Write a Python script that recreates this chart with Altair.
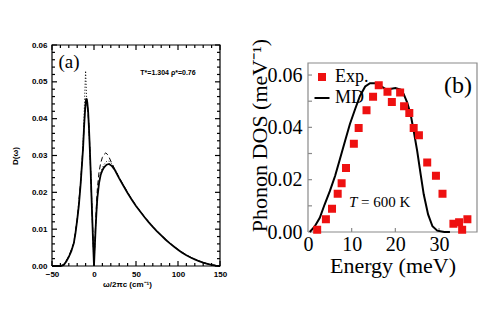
import altair as alt
import pandas as pd

# ---------------- panel (a) data ----------------
a_solid_x = [-50, -40, -36, -33, -30, -27, -24, -22, -20, -18, -16, -14.5, -13, -12, -11, -10, -9, -8, -7, -6, -5, -4, -3, -2, -1,
             0, 1, 2, 3, 4, 6, 8, 10, 12, 15, 18, 21, 25, 30, 35, 40, 45, 50, 55, 60, 65, 70, 75, 80, 85, 90, 95,
             100, 105, 110, 115, 120, 125, 130, 135, 140, 145, 150]
a_solid_y = [0, 0, 0.0003, 0.0012, 0.0025, 0.004, 0.0062, 0.009, 0.0125, 0.0165, 0.022, 0.027, 0.032, 0.037, 0.041, 0.044, 0.0455,
             0.0445, 0.042, 0.0375, 0.032, 0.026, 0.019, 0.0125, 0.006,
             0, 0.0055, 0.0105, 0.015, 0.0185, 0.0225, 0.0248, 0.026, 0.0268, 0.0275, 0.0277, 0.0272, 0.026, 0.0238, 0.0218,
             0.0198, 0.018, 0.0163, 0.0148, 0.0133, 0.0119, 0.0106, 0.0094, 0.0083, 0.0072, 0.0062, 0.0053,
             0.0044, 0.0036, 0.0029, 0.0023, 0.0018, 0.0013, 0.0009, 0.0006, 0.0003, 0.0001, 0]

a_dash_x = [-50, -40, -36, -30, -24, -20, -16, -13, -11, -10, -9, -8, -6, -4, -2, 0, 1, 2, 3, 4, 6, 8, 10, 12, 14, 16, 18,
            21, 25, 30, 35, 40, 50, 60, 70, 80, 90, 100, 110, 120, 130, 140, 150]
a_dash_y = [0, 0, 0.0004, 0.0026, 0.0064, 0.0128, 0.0225, 0.0325, 0.0415, 0.0448, 0.0458, 0.0445, 0.038, 0.0262, 0.0128, 0,
            0.006, 0.012, 0.017, 0.021, 0.0255, 0.028, 0.0295, 0.0303, 0.0307, 0.0303, 0.0295, 0.028, 0.0262, 0.024, 0.022,
            0.0199, 0.0164, 0.0134, 0.0107, 0.0084, 0.0063, 0.0045, 0.003, 0.0018, 0.0009, 0.0003, 0]

a_dot_x = [-50, -40, -36, -30, -24, -20, -16, -14, -12.5, -11.5, -10.5, -10, -9.5, -8.5, -7, -6, -4, -2, 0, 2, 4, 6, 8, 10,
           12, 15, 18, 21, 25, 30, 40, 50, 60, 70, 80, 90, 100, 110, 120, 130, 140, 150]
a_dot_y = [0, 0, 0.0003, 0.0025, 0.0062, 0.0125, 0.022, 0.029, 0.036, 0.043, 0.05, 0.053, 0.05, 0.044, 0.042, 0.0375, 0.026,
           0.0125, 0, 0.0108, 0.0188, 0.023, 0.0253, 0.0266, 0.0276, 0.0284, 0.0285, 0.0278, 0.0263, 0.024, 0.0199, 0.0163,
           0.0133, 0.0106, 0.0083, 0.0062, 0.0044, 0.0029, 0.0018, 0.0009, 0.0003, 0]

a_xmajor = [-50, 0, 50, 100, 150]
a_xminor = [-40, -30, -20, -10, 10, 20, 30, 40, 60, 70, 80, 90, 110, 120, 130, 140]
a_ymajor = [0, 0.01, 0.02, 0.03, 0.04, 0.05, 0.06]
a_yminor = [0.002, 0.004, 0.006, 0.008, 0.012, 0.014, 0.016, 0.018, 0.022, 0.024, 0.026, 0.028,
            0.032, 0.034, 0.036, 0.038, 0.042, 0.044, 0.046, 0.048, 0.052, 0.054, 0.056, 0.058]

# ---------------- panel (b) data ----------------
b_exp_x = [2.1, 4.1, 5.5, 6.8, 7.7, 8.7, 10.5, 11.6, 13.4, 14.9, 16.2, 18.2, 19.2, 21.1, 22.0, 23.2, 24.2, 25.4, 27.3,
           29.3, 30.8, 33.3, 34.6, 35.3, 36.5]
b_exp_y = [0.0009, 0.0049, 0.0089, 0.0146, 0.0186, 0.0245, 0.0337, 0.0398, 0.0465, 0.0517, 0.0561, 0.0536, 0.0497, 0.0533,
           0.0481, 0.0455, 0.0398, 0.0370, 0.0266, 0.0215, 0.0146, 0.0032, 0.0037, 0.0009, 0.0049]
b_md_x = [0.4, 1.5, 2.7, 3.8, 5.0, 6.2, 7.3, 8.5, 9.6, 10.8, 11.9, 13.1, 14.2, 15.4, 16.5, 17.7, 18.8, 20.0, 21.2, 21.9,
          22.7, 23.5, 24.2, 25.0, 25.8, 26.5, 27.5, 28.5, 29.6, 31.2, 32.5]
b_md_y = [0, 0.002, 0.0054, 0.0105, 0.0156, 0.0214, 0.0278, 0.0349, 0.0413, 0.047, 0.052, 0.0556, 0.0569, 0.0569, 0.056,
          0.0547, 0.0547, 0.055, 0.0544, 0.0528, 0.0496, 0.045, 0.0387, 0.031, 0.022, 0.0144, 0.0067, 0.0022, 0.0005, 0,
          0]
b_xticks = [0, 10, 20, 30]
b_yticks = [0, 0.02, 0.04, 0.06]
b_xtickmarks = [10, 20, 30]
b_ytickmarks = [0.01, 0.02, 0.03, 0.04, 0.05, 0.06]
b_series = ["Exp.", "MD"]

SANS = "Liberation Sans"
SERIF = "Liberation Serif"

AW, AH = 168, 221
BW, BH = 169, 169


# ---------------- helpers ----------------
def side_ticks(values, scale, side, length, color, W, H):
    """Inward tick marks drawn as 'stroke' symbols positioned through the scale."""
    df = pd.DataFrame({"v": values})
    if side in ("left", "right"):
        xc = length / 2 if side == "left" else W - length / 2
        return alt.Chart(df).mark_point(shape="stroke", size=length * length, strokeWidth=1.2, color=color,
                                        filled=False, opacity=1).encode(
            y=alt.Y("v:Q", scale=scale, axis=None), x=alt.value(xc))
    yc = length / 2 if side == "top" else H - length / 2
    return alt.Chart(df).mark_point(shape="stroke", size=length * length, strokeWidth=1.2, color=color, angle=90,
                                    filled=False, opacity=1).encode(
        x=alt.X("v:Q", scale=scale, axis=None), y=alt.value(yc))


def frame(xs, ys, xdom, ydom, color):
    """Closed border of the plot area as one ordered polyline at the scale domain limits."""
    df = pd.DataFrame({
        "x": [xdom[0], xdom[1], xdom[1], xdom[0], xdom[0]],
        "y": [ydom[0], ydom[0], ydom[1], ydom[1], ydom[0]],
        "k": [0, 1, 2, 3, 4],
    })
    return alt.Chart(df).mark_line(color=color, strokeWidth=1.2, opacity=1).encode(
        x=alt.X("x:Q", scale=xs, axis=None),
        y=alt.Y("y:Q", scale=ys, axis=None),
        order=alt.Order("k:Q"),
    )


# ---------------- panel (a) ----------------
xa_dom, ya_dom = [-50, 150], [0, 0.06]
xa = alt.Scale(domain=xa_dom, nice=False, zero=False)
ya = alt.Scale(domain=ya_dom, nice=False)

a_xaxis = alt.Axis(orient="bottom", values=a_xmajor, format="d", ticks=False,
                   domain=False, grid=False, labelFlush=False, labelFont=SANS, labelFontWeight="bold", labelFontSize=8,
                   labelColor="black", labelPadding=4, title="ω/2πc (cm⁻¹)", titleFont=SANS,
                   titleFontWeight="bold", titleFontSize=8, titleColor="black", titlePadding=2, titleX=75)
a_yaxis = alt.Axis(orient="left", values=a_ymajor, format=".2f", ticks=False,
                   domain=False, grid=False, labelFlush=False, labelFont=SANS, labelFontWeight="bold", labelFontSize=8,
                   labelColor="black", labelPadding=5, title="D(ω)", titleFont=SANS, titleFontWeight="bold",
                   titleFontSize=8, titleColor="black", titlePadding=12)

df_solid = pd.DataFrame({"x": a_solid_x, "y": a_solid_y})
df_dash = pd.DataFrame({"x": a_dash_x, "y": a_dash_y})
df_dot = pd.DataFrame({"x": a_dot_x, "y": a_dot_y})

a_dot = alt.Chart(df_dot).mark_line(color="black", strokeWidth=1, strokeDash=[1, 2]).encode(
    x=alt.X("x:Q", scale=xa, axis=a_xaxis),
    y=alt.Y("y:Q", scale=ya, axis=a_yaxis),
)
a_dash = alt.Chart(df_dash).mark_line(color="black", strokeWidth=1, strokeDash=[5, 3]).encode(
    x=alt.X("x:Q", scale=xa, axis=None),
    y=alt.Y("y:Q", scale=ya, axis=None),
)
a_solid = alt.Chart(df_solid).mark_line(color="black", strokeWidth=1.8).encode(
    x=alt.X("x:Q", scale=xa, axis=None),
    y=alt.Y("y:Q", scale=ya, axis=None),
)
a_guides = [frame(xa, ya, xa_dom, ya_dom, "black")]
for side in ("left", "right"):
    a_guides.append(side_ticks(a_ymajor, ya, side, 5, "black", AW, AH))
    a_guides.append(side_ticks(a_yminor, ya, side, 3, "black", AW, AH))
for side in ("top", "bottom"):
    a_guides.append(side_ticks(a_xmajor, xa, side, 5, "black", AW, AH))
    a_guides.append(side_ticks(a_xminor, xa, side, 3, "black", AW, AH))

a_lab = alt.Chart(pd.DataFrame({"t": ["(a)"]})).mark_text(
    font=SERIF, fontSize=19, color="black", align="center", baseline="middle"
).encode(x=alt.value(17), y=alt.value(17), text="t:N")
a_params = alt.Chart(pd.DataFrame({"t": ["T*=1.304  ρ*=0.76"]})).mark_text(
    font=SANS, fontSize=7, fontWeight="bold", color="black", align="center", baseline="middle"
).encode(x=alt.value(116), y=alt.value(28), text="t:N")

left = alt.layer(a_dot, a_dash, a_solid, *a_guides, a_lab, a_params).resolve_axis(
    x="independent", y="independent").properties(width=AW, height=AH)

# ---------------- panel (b) ----------------
xb_dom, yb_dom = [0, 38.7], [0, 0.0646]
xb = alt.Scale(domain=xb_dom, nice=False, zero=False)
yb = alt.Scale(domain=yb_dom, nice=False)
GREY = "#8a8a8a"

df_exp = pd.DataFrame({"x": b_exp_x, "y": b_exp_y, "s": ["Exp."] * len(b_exp_x)})
df_md = pd.DataFrame({"x": b_md_x, "y": b_md_y})

b_xaxis = alt.Axis(orient="bottom", values=b_xticks, format="d", ticks=False,
                   domain=False, grid=False, labelFlush=False,
                   labelFont=SERIF, labelFontSize=20, labelColor="black", labelPadding=2, title="Energy (meV)",
                   titleFont=SERIF, titleFontSize=22, titleFontWeight="normal", titleColor="black",
                   titleY=33, titleBaseline="middle")
b_yaxis = alt.Axis(orient="left", values=b_yticks, format=".2f", ticks=False,
                   domain=False, grid=False, labelFlush=False,
                   labelFont=SERIF, labelFontSize=20, labelColor="black", labelPadding=6,
                   title="Phonon DOS (meV⁻¹)", titleFont=SERIF, titleFontSize=22, titleFontWeight="normal",
                   titleColor="black", titleX=-49, titleY=72, titleBaseline="middle")

col_scale = alt.Scale(domain=b_series, range=["#ee1111", "black"])
b_pts = alt.Chart(df_exp).mark_point(filled=True, opacity=1, strokeWidth=2).encode(
    x=alt.X("x:Q", scale=xb, axis=b_xaxis),
    y=alt.Y("y:Q", scale=yb, axis=b_yaxis),
    fill=alt.Fill("s:N", scale=col_scale, legend=alt.Legend(
        title=None, orient="none", legendX=5, legendY=23, padding=0, labelFont=SERIF, labelFontSize=18,
        labelColor="black", labelOffset=4, rowPadding=3, symbolStrokeWidth=2)),
    stroke=alt.Stroke("s:N", scale=col_scale),
    shape=alt.Shape("s:N", scale=alt.Scale(domain=b_series, range=["square", "stroke"])),
    size=alt.Size("s:N", scale=alt.Scale(domain=b_series, range=[36, 225])),
)
b_line = alt.Chart(df_md).mark_line(color="black", strokeWidth=2).encode(
    x=alt.X("x:Q", scale=xb, axis=None),
    y=alt.Y("y:Q", scale=yb, axis=None),
)
b_guides = [frame(xb, yb, xb_dom, yb_dom, GREY),
            side_ticks(b_ytickmarks, yb, "left", 4, GREY, BW, BH),
            side_ticks(b_xtickmarks, xb, "bottom", 4, GREY, BW, BH)]
b_lab = alt.Chart(pd.DataFrame({"t": ["(b)"]})).mark_text(
    font=SERIF, fontSize=24, color="black", align="center", baseline="middle"
).encode(x=alt.value(150), y=alt.value(23), text="t:N")
b_T = alt.Chart(pd.DataFrame({"t": ["T"]})).mark_text(
    font=SERIF, fontSize=15, fontStyle="italic", color="black", align="left", baseline="middle"
).encode(x=alt.value(41), y=alt.value(139), text="t:N")
b_T2 = alt.Chart(pd.DataFrame({"t": ["= 600 K"]})).mark_text(
    font=SERIF, fontSize=15, color="black", align="left", baseline="middle"
).encode(x=alt.value(53), y=alt.value(139), text="t:N")

right = alt.layer(*b_guides, b_line, b_pts, b_lab, b_T, b_T2).resolve_axis(
    x="independent", y="independent"
).properties(width=BW, height=BH)

spacer = alt.Chart(pd.DataFrame({"v": [0]})).mark_point(opacity=0).encode(
    x=alt.value(0), y=alt.value(0)
).properties(width=BW, height=18)

right_col = alt.vconcat(spacer, right, spacing=0, bounds="flush")

chart = alt.hconcat(left, right_col, spacing=88, bounds="flush").properties(
    padding={"left": 2, "top": 29, "right": 0, "bottom": 0}, background="white"
).resolve_scale(fill="independent", stroke="independent", shape="independent", size="independent"
).configure_view(stroke="transparent")

chart.save("out.html", embed_options={"renderer": "svg", "actions": False})
